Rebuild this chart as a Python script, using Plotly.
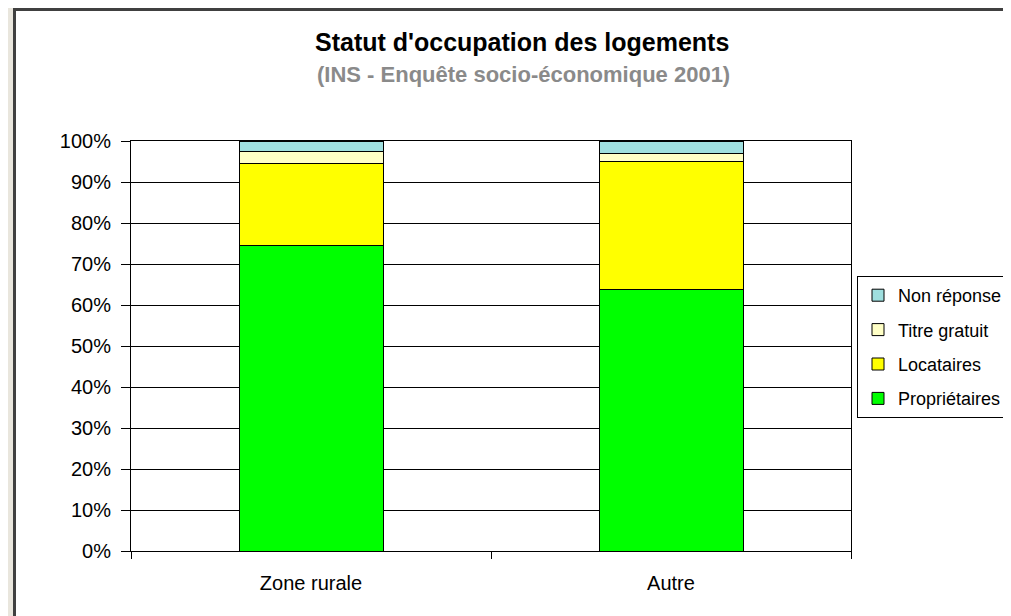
import plotly.graph_objects as go

categories = ["Zone rurale", "Autre"]
proprietaires = [74.6, 63.8]
locataires = [20.0, 31.2]
titre_gratuit = [2.8, 2.0]
non_reponse = [2.6, 3.0]

series = [
    ("Propriétaires", proprietaires, "#00FF00"),
    ("Locataires", locataires, "#FFFF00"),
    ("Titre gratuit", titre_gratuit, "#FFFFC6"),
    ("Non réponse", non_reponse, "#9FDFDF"),
]
y_ticks = list(range(0, 101, 10))
y_tick_labels = [f"{v}%" for v in y_ticks]

OFF = 8  # page body margin
W, H = 1011 - OFF, 616 - OFF
L, R, T, B = 131 - OFF, 851 - OFF, 141 - OFF, 551 - OFF
pw, ph = R - L, B - T

def px_x(x):
    return (x - OFF - L) / pw

def px_y(y):
    return (B - (y - OFF)) / ph

fig = go.Figure()
n = len(series)
for i, (name, vals, color) in enumerate(series):
    fig.add_trace(go.Bar(
        x=categories, y=vals, name=name,
        marker=dict(color=color, line=dict(color="black", width=1)),
        width=0.4, legendgroup=f"g{i}", legendrank=n - i,
    ))

font = "Liberation Sans, Arial, sans-serif"

fig.update_layout(
    width=W, height=H,
    barmode="stack",
    paper_bgcolor="#E9E6DD",
    plot_bgcolor="white",
    margin=dict(l=L, r=W - R, t=T, b=H - B, autoexpand=False),
    font=dict(family=font, size=20, color="black"),
    showlegend=True,
    legend=dict(
        x=px_x(857), y=px_y(276), xanchor="left", yanchor="top",
        bordercolor="black", borderwidth=1, bgcolor="white",
        traceorder="grouped", tracegroupgap=8,
        font=dict(family=font, size=18, color="black"),
    ),
    xaxis=dict(
        showgrid=False, showline=True, linecolor="black", linewidth=1, mirror=True,
        ticks="outside", tickson="boundaries", ticklen=7, tickcolor="black",
        tickfont=dict(family=font, size=20, color="black"),
        ticklabelstandoff=14,
    ),
    yaxis=dict(
        range=[0, 100], tickvals=y_ticks, ticktext=y_tick_labels,
        showgrid=True, gridcolor="black", gridwidth=1,
        showline=True, linecolor="black", linewidth=1, mirror=True,
        ticks="outside", ticklen=9, tickcolor="black",
        tickfont=dict(family=font, size=20, color="black"),
        ticklabelstandoff=6,
        zeroline=False,
    ),
    shapes=[dict(
        type="rect", xref="paper", yref="paper", layer="below",
        x0=px_x(14.5), x1=px_x(1060), y0=px_y(9.5), y1=px_y(660),
        fillcolor="white", line=dict(color="#404040", width=3),
    )],
    annotations=[
        dict(text="<b>Statut d'occupation des logements</b>", xref="paper", yref="paper",
             x=px_x(522), y=px_y(42), showarrow=False, xanchor="center", yanchor="middle",
             font=dict(family=font, size=25, color="black")),
        dict(text="<b>(INS - Enquête socio-économique 2001)</b>", xref="paper", yref="paper",
             x=px_x(523), y=px_y(74), showarrow=False, xanchor="center", yanchor="middle",
             font=dict(family=font, size=22, color="#8A8A8A")),
    ],
)

fig.write_html("out.html")
